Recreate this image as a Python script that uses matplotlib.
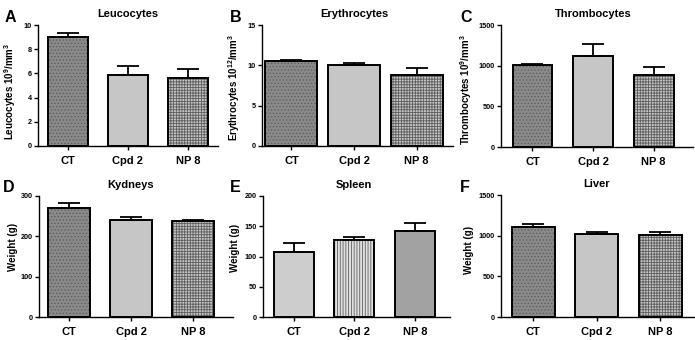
import numpy as np
import matplotlib
matplotlib.use("Agg")
import matplotlib.pyplot as plt

plt.rcParams['font.family'] = ['Liberation Sans', 'DejaVu Sans']
plt.rcParams['mathtext.fontset'] = 'custom'
plt.rcParams['mathtext.rm'] = 'Liberation Sans:bold'
plt.rcParams['mathtext.bf'] = 'Liberation Sans:bold'
plt.rcParams['hatch.linewidth'] = 0.6

groups = ['CT', 'Cpd 2', 'NP 8']

leuco = [9.0, 5.9, 5.65]
leuco_err = [0.35, 0.7, 0.7]
eryth = [10.5, 10.05, 8.8]
eryth_err = [0.15, 0.3, 0.85]
thromb = [1005, 1125, 885]
thromb_err = [20, 140, 95]
kidney = [270, 240, 238]
kidney_err = [13, 7, 2]
spleen = [108, 128, 142]
spleen_err = [14, 5, 14]
liver = [1110, 1015, 1005]
liver_err = [35, 25, 40]

W, H = 695, 340
fig = plt.figure(figsize=(W / 100, H / 100), dpi=100)

# letter, title, ylabel, values, errors, ymax, ystep, style set,
# (left spine px, right px, top px, bottom px), xlim, bar width, label y, label offset px
panels = [
    ('A', 'Leucocytes', 'Leucocytes 10$^{9}$/mm$^{3}$', leuco, leuco_err, 10, 2, 0,
     (38, 218, 25, 146), (-0.5, 2.5), 0.68, 0.45, 20),
    ('B', 'Erythrocytes', 'Erythrocytes 10$^{12}$/mm$^{3}$', eryth, eryth_err, 15, 5, 0,
     (262, 453, 25, 146), (-0.47, 2.58), 0.83, 0.48, 20),
    ('C', 'Thrombocytes', 'Thrombocytes 10$^{9}$/mm$^{3}$', thromb, thromb_err, 1500, 500, 0,
     (501, 693, 25, 147), (-0.52, 2.65), 0.66, 0.47, 27),
    ('D', 'Kydneys', 'Weight (g)', kidney, kidney_err, 300, 100, 0,
     (39, 233, 196, 317), (-0.49, 2.65), 0.68, 0.58, 21),
    ('E', 'Spleen', 'Weight (g)', spleen, spleen_err, 200, 50, 1,
     (263, 450, 196, 317), (-0.51, 2.58), 0.66, 0.57, 23),
    ('F', 'Liver', 'Weight (g)', liver, liver_err, 1500, 500, 0,
     (501, 702, 195, 317), (-0.51, 2.66), 0.68, 0.55, 27),
]

# (facecolor, hatch) per bar
styles = [
    [('#8a8a8a', '.....'), ('#c6c6c6', None), ('#c4c4c4', '++++++')],
    [('#cdcdcd', None), ('#e0e0e0', '||||||'), ('#a2a2a2', None)],
]

for letter, title, ylab, vals, errs, ymax, ystep, st, box, xlim, bw, ly, loff in panels:
    l, r, t, b = box
    ax = fig.add_axes([l / W, 1 - b / H, (r - l) / W, (b - t) / H])
    x = np.arange(len(groups))
    for i in range(len(groups)):
        fc, hatch = styles[st][i]
        ax.bar(x[i], vals[i], bw, color=fc, edgecolor='none', zorder=2)
        if hatch:
            ax.bar(x[i], vals[i], bw, color='none', edgecolor='#5e5e5e',
                   hatch=hatch, linewidth=0, zorder=3)
        ax.bar(x[i], vals[i], bw, color='none', edgecolor='black',
               linewidth=1.4, zorder=4)
    ax.errorbar(x, vals, yerr=[np.zeros(len(vals)), errs], fmt='none',
                ecolor='black', elinewidth=1.3, capsize=8, capthick=1.3, zorder=5)
    ax.set_xlim(*xlim)
    ax.set_ylim(0, ymax)
    ax.set_yticks(np.arange(0, ymax + 1e-9, ystep))
    ax.set_xticks(x)
    ax.set_xticklabels(groups, fontsize=8, fontweight='bold')
    for lab in ax.get_yticklabels():
        lab.set_fontsize(5.2)
        lab.set_fontweight('bold')
    ax.tick_params(axis='both', direction='out', length=3, width=1, pad=1.5)
    ax.tick_params(axis='x', pad=4)
    for s in ('top', 'right'):
        ax.spines[s].set_visible(False)
    for s in ('left', 'bottom'):
        ax.spines[s].set_linewidth(1.0)
    ax.set_ylabel(ylab, fontsize=7, fontweight='bold')
    ax.yaxis.set_label_coords(-loff / (r - l), ly)
    ax.text(1, 1.09, title, transform=ax.get_xaxis_transform(), ha='center',
            va='center', fontsize=8, fontweight='bold')
    lx = {'A': 5, 'B': 230, 'C': 460, 'D': 3, 'E': 230, 'F': 460}[letter]
    fig.text(lx / W, 1 - (t - 8) / H, letter, fontsize=11.5, fontweight='bold',
             ha='left', va='center')

fig.savefig('out.png', dpi=100, facecolor='white')
